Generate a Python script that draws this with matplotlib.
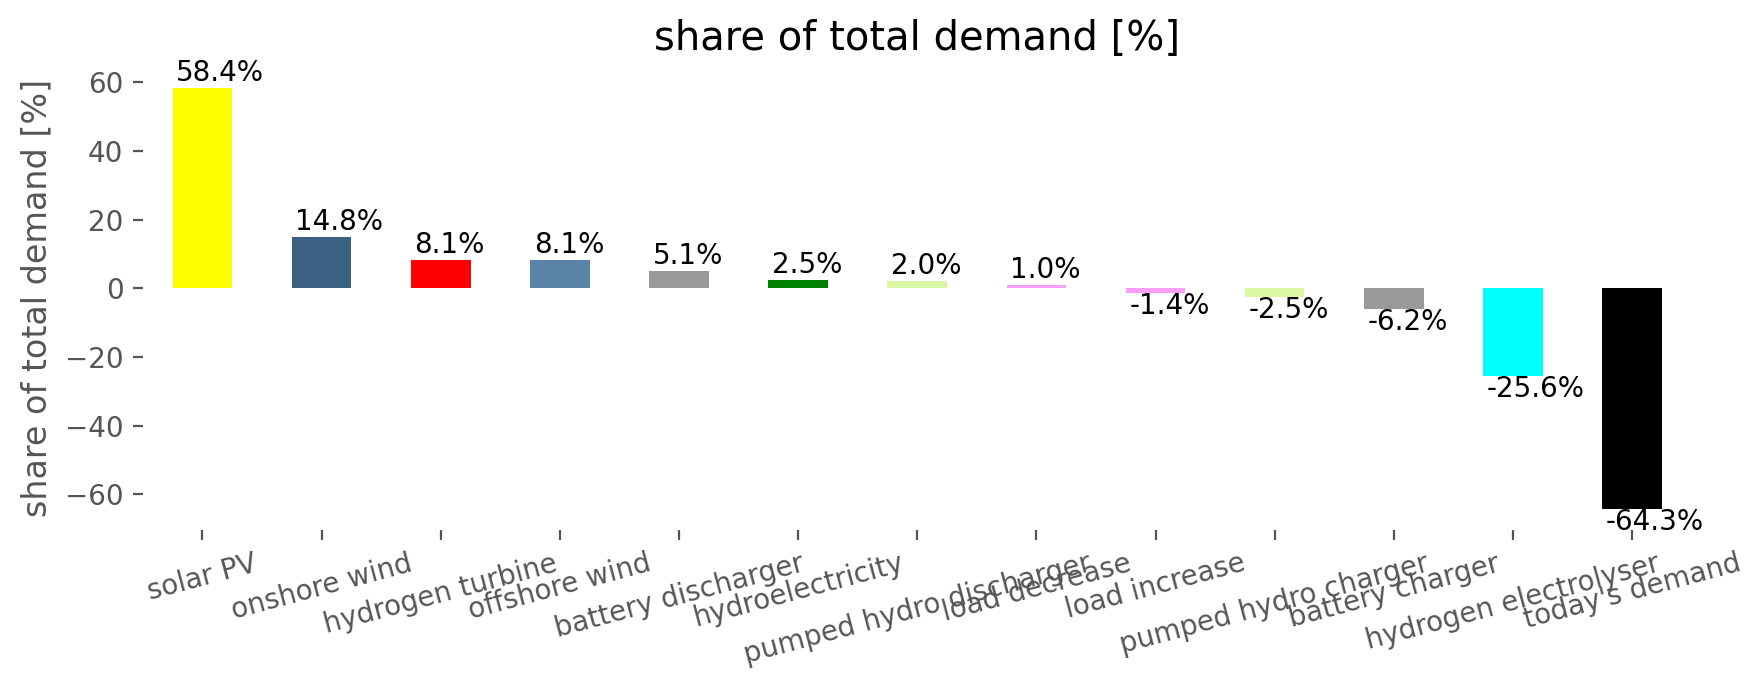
import matplotlib
matplotlib.use('Agg')
import matplotlib.pyplot as plt

# data
technologies = ['solar PV', 'onshore wind', 'hydrogen turbine', 'offshore wind',
                'battery discharger', 'hydroelectricity', 'pumped hydro discharger',
                'load decrease', 'load increase', 'pumped hydro charger',
                'battery charger', 'hydrogen electrolyser', "today's demand"]
shares = [58.4, 14.8, 8.1, 8.1, 5.1, 2.5, 2.0, 1.0, -1.4, -2.5, -6.2, -25.6, -64.3]
bar_colors = ['#ffff00', '#3b6182', '#ff0000', '#5b83a6', '#999999', '#008000',
              '#d9f7a5', '#f99ff5', '#f99ff5', '#d9f7a5', '#999999', '#00ffff', '#000000']

plt.style.use('ggplot')
plt.rcParams['font.family'] = ['DejaVu Sans']

fig = plt.figure(figsize=(8.82, 3.445), dpi=200)
ax = fig.add_axes([0.081, 0.231, 0.878, 0.672])
ax.set_facecolor('white')
ax.grid(False)

x = list(range(len(technologies)))
bars = ax.bar(x, shares, width=0.5, color=bar_colors)

# value labels at the end of each bar
for b, v in zip(bars, shares):
    if v >= 0:
        ax.text(b.get_x() + 0.03, v + 0.3, f'{v:.1f}%', ha='left', va='bottom',
                fontsize=10, color='black')
    else:
        ax.text(b.get_x() + 0.03, v + 0.3, f'{v:.1f}%', ha='left', va='top',
                fontsize=10, color='black')

ax.set_xticks(x)
ax.set_xticklabels(technologies, rotation=15)
ax.set_xlim(-0.5, 12.5)
ax.set_ylim(-70.4, 64.5)
ax.set_ylabel('share of total demand [%]', fontsize=12, color='#555555')
ax.set_title('share of total demand [%]', fontsize=14.4, color='black')
ax.tick_params(axis='both', labelsize=10, colors='#555555')
for s in ax.spines.values():
    s.set_visible(False)

fig.savefig('out.png', dpi=200, facecolor='white')
